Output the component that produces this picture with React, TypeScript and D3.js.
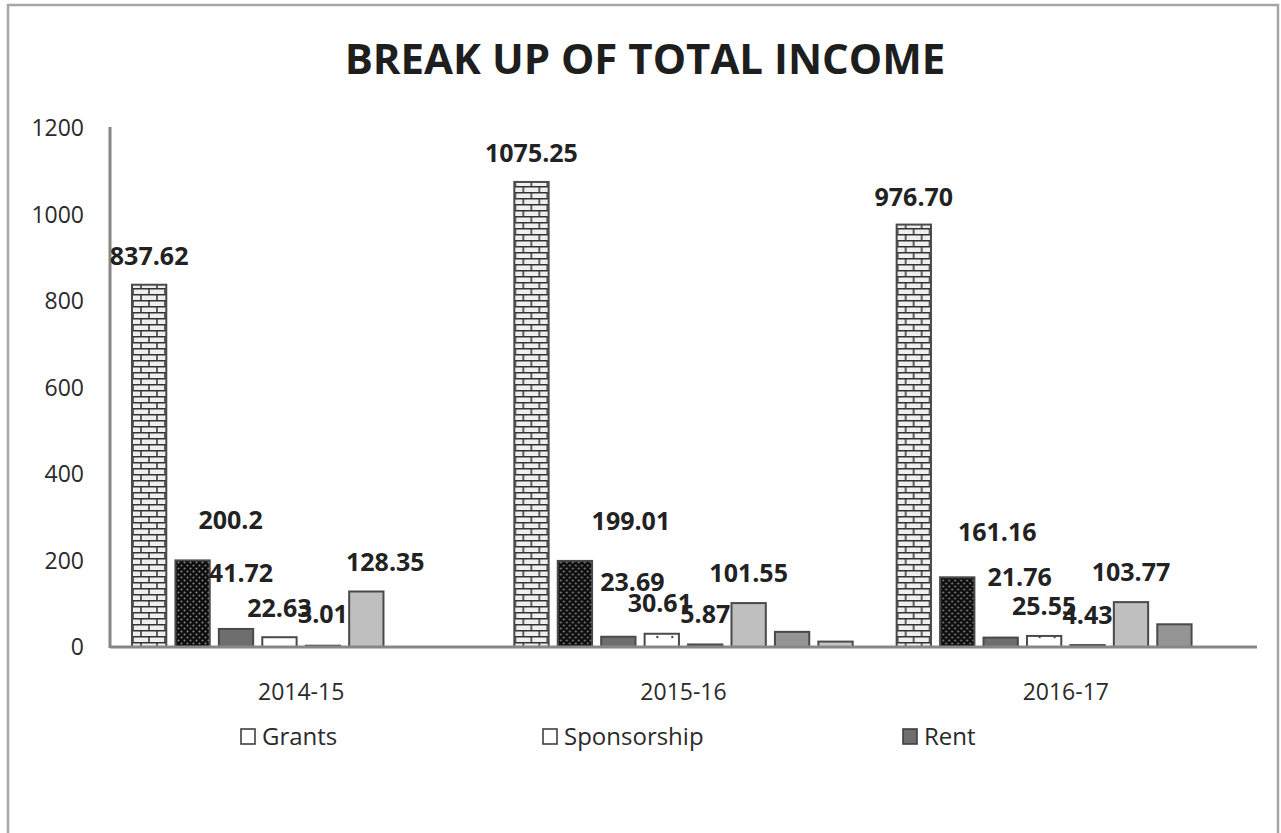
import * as d3 from "d3";

// categories and series values
const categories = ["2014-15", "2015-16", "2016-17"];
const grants = [837.62, 1075.25, 976.7];
const sponsorship = [200.2, 199.01, 161.16];
const rent = [41.72, 23.69, 21.76];
const series4 = [22.63, 30.61, 25.55];
const series5 = [3.01, 5.87, 4.43];
const series6 = [128.35, 101.55, 103.77];
const series7 = [0, 35, 52.5];
const series8 = [0, 12.5, 0];

// data label text as printed in the source chart (null = no label)
const grantsLabels = ["837.62", "1075.25", "976.70"];
const sponsorshipLabels = ["200.2", "199.01", "161.16"];
const rentLabels = ["41.72", "23.69", "21.76"];
const series4Labels = ["22.63", "30.61", "25.55"];
const series5Labels = ["3.01", "5.87", "4.43"];
const series6Labels = ["128.35", "101.55", "103.77"];

const yTicks = [0, 200, 400, 600, 800, 1000, 1200];
const legendNames = ["Grants", "Sponsorship", "Rent"];

const series = [
  { name: "Grants", values: grants, labels: grantsLabels, fill: "url(#brick)", dx: [0, 0, 0], dy: [-20, -20, -19] },
  { name: "Sponsorship", values: sponsorship, labels: sponsorshipLabels, fill: "url(#darkdots)", dx: [38, 56, 40], dy: [-31, -31, -36] },
  { name: "Rent", values: rent, labels: rentLabels, fill: "#6e6e6e", dx: [5, 14, 19], dy: [-47, -46, -52] },
  { name: "Series 4", values: series4, labels: series4Labels, fill: "url(#whitedots)", dx: [0, -2, 0], dy: [-20, -22, -21] },
  { name: "Series 5", values: series5, labels: series5Labels, fill: "#5a5a5a", dx: [0, 0, 0], dy: [-23, -21, -21] },
  { name: "Series 6", values: series6, labels: series6Labels, fill: "#bfbfbf", dx: [19, 0, 0], dy: [-20, -21, -21] },
  { name: "Series 7", values: series7, labels: null, fill: "#959595", dx: [0, 0, 0], dy: [0, 0, 0] },
  { name: "Series 8", values: series8, labels: null, fill: "#c6c6c6", dx: [0, 0, 0], dy: [0, 0, 0] },
];

const legendFills = ["#ffffff", "#ffffff", "#6e6e6e"];
const legendX = [241, 543, 903];

const FONT = "'Open Sans', 'Liberation Sans', sans-serif";

export default function App() {
  const width = 1281;
  const height = 833;
  const left = 110;
  const right = 1257;
  const top = 128;
  const bottom = 647;

  const x0 = d3
    .scaleBand<string>()
    .domain(categories)
    .range([left, right])
    .paddingInner(0.115)
    .paddingOuter(0.0575);
  const x1 = d3
    .scaleBand<string>()
    .domain(series.map((s) => s.name))
    .range([0, x0.bandwidth()])
    .paddingInner(0.21);
  const y = d3.scaleLinear().domain([0, 1200]).range([bottom, top]);

  return (
    <svg
      width={width}
      height={height}
      viewBox={`0 0 ${width} ${height}`}
      style={{ position: "absolute", left: 0, top: 0, background: "#fff" }}
    >
      <defs>
        <pattern id="brick" width={16} height={12} patternUnits="userSpaceOnUse">
          <rect width={16} height={12} fill="#eeeeee" />
          <path
            d="M0 0.75H16M0 6.75H16M1 0V6.75M9 6.75V12"
            stroke="#333"
            strokeWidth={1.5}
            fill="none"
          />
        </pattern>
        <pattern id="darkdots" width={6} height={6} patternUnits="userSpaceOnUse">
          <rect width={6} height={6} fill="#0d0d0d" />
          <circle cx={1.5} cy={1.5} r={1} fill="#8a8a8a" />
          <circle cx={4.5} cy={4.5} r={1} fill="#8a8a8a" />
        </pattern>
        <pattern id="whitedots" width={15} height={14} patternUnits="userSpaceOnUse">
          <rect width={15} height={14} fill="#ffffff" />
          <circle cx={8} cy={7} r={1.2} fill="#444" />
        </pattern>
      </defs>

      {/* outer frame */}
      <rect x={8} y={5} width={1270} height={900} fill="#fff" stroke="#a6a6a6" strokeWidth={2.5} />

      <text
        x={645}
        y={74}
        textAnchor="middle"
        fontFamily={FONT}
        fontWeight={700}
        fontSize={42}
        fill="#1e1e1e"
      >
        BREAK UP OF TOTAL INCOME
      </text>

      {/* y tick labels */}
      <g fontFamily={FONT} fontSize={23} fill="#2a2a2a" textAnchor="end">
        {yTicks.map((t) => (
          <text key={t} x={84} y={y(t)} dy="0.35em">
            {t}
          </text>
        ))}
      </g>

      {/* bars */}
      <g>
        {categories.map((c, ci) => (
          <g key={c} transform={`translate(${x0(c)},0)`}>
            {series.map((s) =>
              s.values[ci] > 0 ? (
                <rect
                  key={s.name}
                  x={x1(s.name)}
                  y={y(s.values[ci])}
                  width={x1.bandwidth()}
                  height={y(0) - y(s.values[ci])}
                  fill={s.fill}
                  stroke="#4a4a4a"
                  strokeWidth={2}
                />
              ) : null
            )}
          </g>
        ))}
      </g>

      {/* axes */}
      <line x1={left} x2={left} y1={top - 1} y2={bottom + 1} stroke="#878787" strokeWidth={3} />
      <line x1={left} x2={right} y1={bottom} y2={bottom} stroke="#878787" strokeWidth={3} />

      {/* data labels */}
      <g fontFamily={FONT} fontWeight={700} fontSize={25} fill="#222" textAnchor="middle">
        {categories.map((c, ci) =>
          series.map((s) =>
            s.labels ? (
              <text
                key={`${c}-${s.name}`}
                x={(x0(c) ?? 0) + (x1(s.name) ?? 0) + x1.bandwidth() / 2 + s.dx[ci]}
                y={y(s.values[ci]) + s.dy[ci]}
              >
                {s.labels[ci]}
              </text>
            ) : null
          )
        )}
      </g>

      {/* category labels */}
      <g fontFamily={FONT} fontSize={23} fill="#2a2a2a" textAnchor="middle">
        {categories.map((c) => (
          <text key={c} x={(x0(c) ?? 0) + x0.bandwidth() / 2} y={700}>
            {c}
          </text>
        ))}
      </g>

      {/* legend */}
      <g fontFamily={FONT} fontSize={24} fill="#2a2a2a">
        {legendNames.map((n, i) => (
          <g key={n} transform={`translate(${legendX[i]},729)`}>
            <rect x={0} y={0} width={14} height={15} fill={legendFills[i]} stroke="#404040" strokeWidth={1.6} />
            <text x={21} y={16}>
              {n}
            </text>
          </g>
        ))}
      </g>
    </svg>
  );
}
